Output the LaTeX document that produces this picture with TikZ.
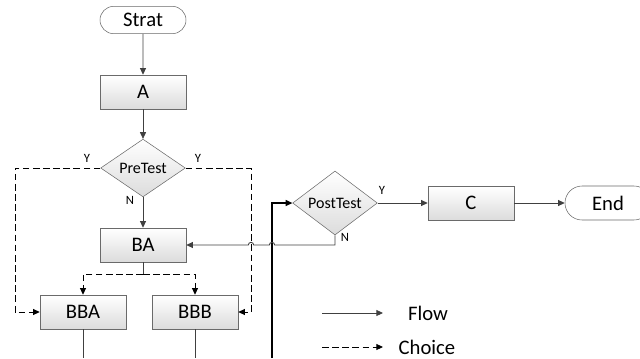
\documentclass[tikz,border=0pt]{standalone}
\usepackage{fontspec}
\setmainfont{Carlito}
\usetikzlibrary{arrows.meta,shapes.geometric,shapes.misc}
\definecolor{linegray}{HTML}{404040}
\definecolor{edgegray}{HTML}{6A6A6A}
\definecolor{boxgray}{HTML}{DCDCDC}

\begin{document}
\begin{tikzpicture}[x=0.75pt,y=-0.75pt,
  >={Triangle[length=5pt,width=4.5pt]},
  flow/.style={->,draw=linegray,line width=0.65pt},
  choice/.style={->,draw=black,line width=0.65pt,dash pattern=on 5pt off 2.6pt},
  procbox/.style={draw=edgegray,top color=white,bottom color=boxgray,inner sep=0pt,
    minimum width=64.5pt,minimum height=25.5pt,font=\fontsize{15.5}{18}\selectfont},
  termbox/.style={rounded rectangle,draw=edgegray,fill=white,inner sep=0pt,
    minimum width=64.5pt,font=\fontsize{15.5}{18}\selectfont},
  testbox/.style={diamond,draw=edgegray,top color=white,bottom color=boxgray,inner sep=0pt,
    minimum width=63.5pt,minimum height=38pt,font=\fontsize{12}{14}\selectfont},
  lbl/.style={font=\fontsize{9.5}{11}\selectfont,inner sep=0pt}]
  % Page size
  \useasboundingbox (0,0) rectangle (640,358);
  \def\hop{2pt}

  % Main column
  \node[termbox,minimum height=20.5pt] (strat) at (143,20) {Strat};
  \node[procbox] (a) at (143,92) {A};
  \node[testbox] (pre) at (143,168) {PreTest};
  \node[procbox] (ba) at (143,245) {BA};
  \node[procbox] (bba) at (83,312) {BBA};
  \node[procbox] (bbb) at (195,312) {BBB};

  % Right row
  \node[testbox] (post) at (335,203) {PostTest};
  \node[procbox] (c) at (471,203) {C};
  \node[termbox,minimum height=25.5pt] (end) at (608,203) {End};

  % Branch labels
  \node[lbl] (prey1) at (87,158) {Y};
  \node[lbl] (prey2) at (198,158) {Y};
  \node[lbl] (pren) at (130,200) {N};
  \node[lbl] (posty) at (382,190) {Y};
  \node[lbl] (postn) at (345,237) {N};

  % Free ends at the bottom edge
  \coordinate (split) at (143,274);
  \coordinate (bbaout) at (83,358);
  \coordinate (bbbout) at (195,358);
  \coordinate (loopin) at (272,358);
  \coordinate (postdown) at (335,245);

  % Flow connectors
  \draw[flow] (strat) -- (a);
  \draw[flow] (a) -- (pre);
  \draw[flow] (pre) -- (ba);
  \draw[flow] (post) -- (c);
  \draw[flow] (c) -- (end);
  \draw[draw=linegray,line width=0.65pt] (ba) -- (split);
  \draw[draw=linegray,line width=0.65pt] (bba) -- (bbaout);
  \draw[draw=linegray,line width=0.65pt] (bbb) -- (bbbout);
  \draw[flow,draw=black,line width=1.1pt] (loopin) |- (post.west);
  \draw[flow] (post.south) -- (postdown)
    -- ([xshift=\hop]272,245) arc[start angle=0,end angle=180,radius=\hop]
    -- ([xshift=\hop]251,245) arc[start angle=0,end angle=180,radius=\hop]
    -- (ba.east);

  % Choice connectors
  \draw[choice] (pre.west) -- (15,168) |- (bba.west);
  \draw[choice] (pre.east) -- (251,168) |- (bbb.east);
  \draw[choice] (split) -| (bba.north);
  \draw[choice] (split) -| (bbb.north);

  % Legend
  \coordinate (flowa) at (322,313);
  \coordinate (flowb) at (383,313);
  \coordinate (choicea) at (322,347);
  \coordinate (choiceb) at (383,347);
  \draw[flow] (flowa) -- (flowb);
  \draw[choice] (choicea) -- (choiceb);
  \node[font=\fontsize{15.5}{18}\selectfont,inner sep=0pt] (flowtxt) at (428,313) {Flow};
  \node[font=\fontsize{15.5}{18}\selectfont,inner sep=0pt,anchor=base] (choicetxt) at (427,354) {Choice};
\end{tikzpicture}
\end{document}
